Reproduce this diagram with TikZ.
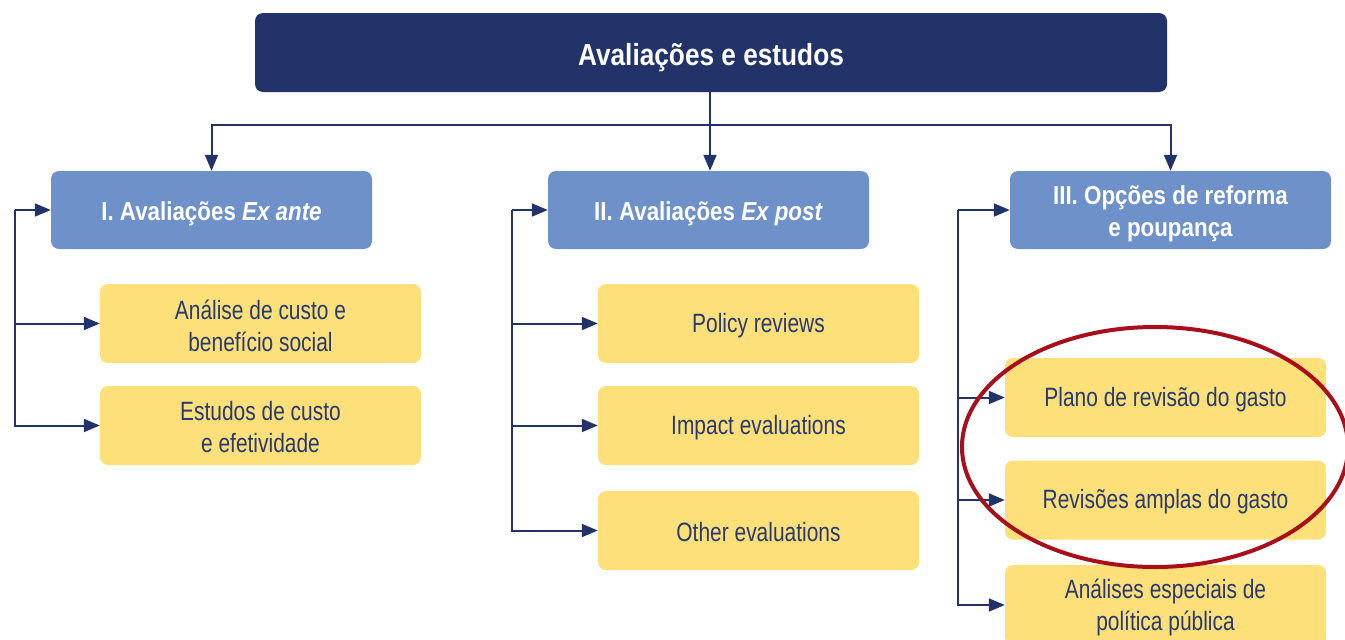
\documentclass[tikz,border=0pt]{standalone}
\usepackage{fontspec}
\setmainfont[FakeStretch=0.79]{Liberation Sans}
\newfontfamily\boldcond[FakeStretch=0.86,BoldFont={Liberation Sans Bold},BoldItalicFont={Liberation Sans Bold Italic}]{Liberation Sans}
\usetikzlibrary{arrows.meta,shapes.geometric}
\definecolor{navy}{HTML}{22336A}
\definecolor{midblue}{HTML}{6E91CA}
\definecolor{yel}{HTML}{FDE07A}
\definecolor{txt}{HTML}{283A6E}
\definecolor{redring}{HTML}{A80F1A}
\tikzset{
  topbox/.style={fill=navy, rounded corners=8pt, minimum width=912pt, minimum height=79pt, inner sep=0pt},
  headbox/.style={fill=midblue, rounded corners=8pt, minimum width=321pt, minimum height=78pt, inner sep=0pt},
  leafbox/.style={fill=yel, rounded corners=8pt, minimum width=321pt, minimum height=79pt, inner sep=0pt},
  toptext/.style={text=white, inner sep=0pt, yshift=-5pt, font=\boldcond\bfseries\fontsize{30.5}{32}\selectfont},
  headtext/.style={text=white, inner sep=0pt, yshift=-4pt, align=center, font=\boldcond\bfseries\fontsize{26}{32}\selectfont},
  leaftext/.style={text=txt, inner sep=0pt, yshift=-2pt, align=center, font=\fontsize{26.5}{32}\selectfont},
  conn/.style={draw=navy, line width=2pt},
  arr/.style={conn, -{Triangle[length=16pt,width=13pt]}},
}
\begin{document}
\begin{tikzpicture}[x=1pt,y=-1pt]
\useasboundingbox (0,0) rectangle (1345,640);
\clip (0,0) rectangle (1345,640);
% top
\node[topbox] (top) at (711,52.5) {};
\node[toptext] (topt) at (top.center) {Avaliações e estudos};
% headers
\node[headbox] (H1) at (211.5,210) {};
\node[headbox] (H2) at (708.5,210) {};
\node[headbox] (H3) at (1170.5,210) {};
\node[headtext] (H1t) at (H1.center) {I. Avaliações \textit{Ex ante}};
\node[headtext] (H2t) at (H2.center) {II. Avaliações \textit{Ex post}};
\node[headtext] (H3t) at (H3.center) {III. Opções de reforma\\e poupança};
% leaves col 1
\node[leafbox] (A1) at (260.5,323.5) {};
\node[leafbox] (A2) at (260.5,425.5) {};
\node[leaftext] (A1t) at (A1.center) {Análise de custo e\\benefício social};
\node[leaftext] (A2t) at (A2.center) {Estudos de custo\\e efetividade};
% leaves col 2
\node[leafbox] (B1) at (758.5,323.5) {};
\node[leafbox] (B2) at (758.5,425.5) {};
\node[leafbox] (B3) at (758.5,530.5) {};
\node[leaftext] (B1t) at (B1.center) {Policy reviews};
\node[leaftext] (B2t) at (B2.center) {Impact evaluations};
\node[leaftext] (B3t) at (B3.center) {Other evaluations};
% leaves col 3
\node[leafbox] (C1) at (1165.5,397.5) {};
\node[leafbox] (C2) at (1165.5,500) {};
\node[leafbox, minimum height=80pt] (C3) at (1165.5,605) {};
\node[leaftext] (C1t) at (C1.center) {Plano de revisão do gasto};
\node[leaftext] (C2t) at (C2.center) {Revisões amplas do gasto};
\node[leaftext] (C3t) at (C3.center) {Análises especiais de\\política pública};
% top connectors
\coordinate (j) at (710,125);
\draw[conn] (top.south -| j) -- (j);
\draw[arr] (j) -| (H1.north);
\draw[arr] (j) -- (j |- H2.north);
\draw[arr] (j) -| (H3.north);
% spine 1
\coordinate (s1) at (15,210);
\draw[arr] (s1) -- (H1.west);
\draw[arr] (s1 |- A1.west) -- (A1.west);
\draw[arr] (s1) |- (A2.west);
% spine 2
\coordinate (s2) at (512,210);
\draw[arr] (s2) -- (H2.west);
\draw[arr] (s2 |- B1.west) -- (B1.west);
\draw[arr] (s2 |- B2.west) -- (B2.west);
\draw[arr] (s2) |- (B3.west);
% spine 3
\coordinate (s3) at (958,210);
\draw[arr] (s3) -- (H3.west);
\draw[arr] (s3 |- C1.west) -- (C1.west);
\draw[arr] (s3 |- C2.west) -- (C2.west);
\draw[arr] (s3) |- (C3.west);
% red ellipse
\node[draw=redring, line width=4pt, ellipse, minimum width=386pt, minimum height=240pt, inner sep=0pt] (ring) at (1155,447) {};
\end{tikzpicture}
\end{document}
